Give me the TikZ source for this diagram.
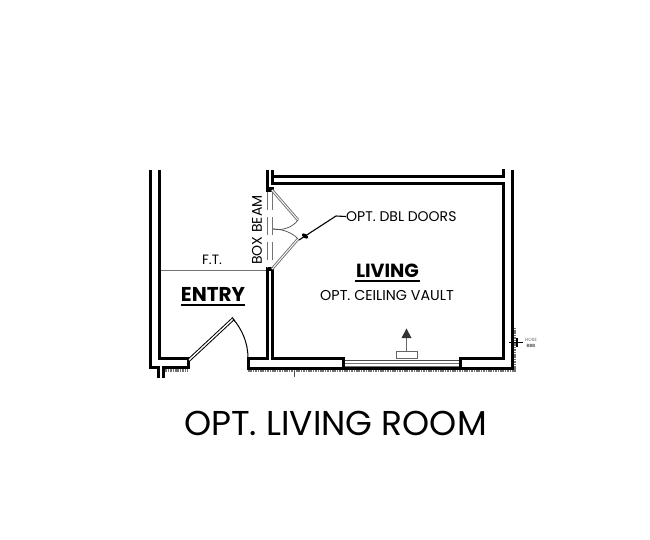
\documentclass[tikz,border=0pt]{standalone}
\usepackage{fontspec}
\setmainfont{Poppins}
\definecolor{grayline}{gray}{0.45}
\tikzset{
  wall/.style={line width=3pt,black,line cap=butt,line join=miter},
  grayw/.style={line width=1pt,grayline},
  hatchstrip/.style={line width=2.6pt,black!55,dash pattern=on 1.6pt off 0.8pt},
  lbl/.style={inner sep=0pt,text=black},
}
\begin{document}
\begin{tikzpicture}[x=1pt,y=-1pt]
\useasboundingbox (0,0) rectangle (650,539);
\fill[white] (0,0) rectangle (650,539);
% hatching
\draw[hatchstrip] (163,370.5) -- (188,370.5);
\draw[hatchstrip] (248,370.5) -- (515.5,370.5);
\draw[hatchstrip] (514.7,370) -- (514.7,327);
% left walls
\draw[wall] (150,170) -- (150,367.5) -- (158,367.5) -- (158,378);
\draw[wall] (163.5,378) -- (163.5,367.5) -- (188,367.5) -- (188,358.5) -- (159,358.5) -- (159,170);
% middle and bottom
\draw[wall] (267,170) -- (267,190);
\draw[wall] (272,170) -- (272,183) -- (503,183) -- (503,358.5) -- (460,358.5) -- (460,368);
\draw[wall] (273,176.5) -- (503,176.5) -- (503,169);
\draw[wall] (512,170) -- (512,368.5) -- (248,368.5) -- (248,358.5) -- (267,358.5) -- (267,269);
\draw[wall] (272,269) -- (272,358.5) -- (343,358.5) -- (343,368);
\fill[black] (265.5,187) rectangle (273.5,192);
\fill[black] (265.5,267) rectangle (273.5,271);
% sliding door
\fill[white] (345,359) rectangle (458,367);
\draw[black!70,line width=1.8pt] (344.5,360.5) -- (458.5,360.5);
\draw[grayw] (344.5,363.8) -- (458.5,363.8);
\draw[grayw] (344.5,366) -- (458.5,366);
% entry door
\coordinate (entryA) at (189,360);
\coordinate (entryB) at (233,319);
\draw[black,line width=3.4pt] (entryA) -- (entryB);
\draw[white,line width=1.4pt] (entryA) -- (entryB);
\draw[black,line width=0.8pt] (232,317) -- (235,321);
\draw[black,line width=1pt] (entryB) .. controls (242,329) and (248,343) .. (248,358);
% double doors
\coordinate (dbA) at (272,190);
\coordinate (dbB) at (298,220);
\coordinate (dbC) at (272,269);
\coordinate (dbD) at (298,239);
\draw[grayline,line width=2.8pt] (dbA) -- (dbB);
\draw[white,line width=0.9pt] (dbA) -- (dbB);
\draw[grayline,line width=2.8pt] (dbC) -- (dbD);
\draw[white,line width=0.9pt] (dbC) -- (dbD);
\draw[black!70,line width=0.7pt] (dbB) .. controls (293,227) and (283,231) .. (273,229);
\draw[black!70,line width=0.7pt] (dbD) .. controls (293,233) and (283,229) .. (273,229);
% box beam dashes
\draw[grayline,line width=1pt,dash pattern=on 18pt off 7pt] (267,192) -- (267,268);
\draw[grayline,line width=1pt,dash pattern=on 18pt off 7pt] (272,192) -- (272,268);
% F.T.
\draw[grayw] (160.5,270) -- (265.5,270);
\node[lbl,font=\fontsize{13.5}{14}\selectfont] (ft) at (212,260) {F.T.};
\node[lbl,rotate=90,font=\fontsize{14}{14}\selectfont] (bb) at (257,230) {BOX BEAM};
% leader
\node[lbl,anchor=west,font=\fontsize{14}{14}\selectfont] (dbl) at (346,216.5) {OPT. DBL DOORS};
\coordinate (lead) at (299,240);
\draw[black,line width=1.1pt] (lead) -- (336,216) -- (dbl.west);
\fill[black,rotate around={-33:(305,236)}] (305,236) ellipse (3.6pt and 2pt);
% labels
\node[lbl,font=\bfseries\fontsize{19}{19}\selectfont] (living) at (387.5,271) {LIVING};
\draw[black,line width=1.2pt] (355,281) -- (420,281);
\node[lbl,font=\fontsize{14.3}{14}\selectfont] (vault) at (387,295) {OPT. CEILING VAULT};
\node[lbl,font=\bfseries\fontsize{20}{20}\selectfont] (entry) at (213,294) {ENTRY};
\draw[black,line width=1.2pt] (181,305) -- (245,305);
\node[lbl,font=\fontsize{34.5}{35}\selectfont] (title) at (335.5,423) {OPT. LIVING ROOM};
% arrow
\draw[black!60,line width=1pt,fill=white] (396,358) rectangle (417,351);
\draw[black!60,line width=1.2pt] (406.5,351) -- (406.5,335);
\fill[black!80] (406.5,328.5) -- (411.5,338) -- (401.5,338) -- cycle;
% tick
\draw[black!70,line width=0.7pt] (294,371) -- (294,377);
% hose
\draw[black,line width=1.1pt] (509,342.5) -- (523,342.5);
\draw[black,line width=1.1pt] (517,338) -- (517,347);
\node[lbl,text=black!60,font=\fontsize{4.5}{5}\selectfont] (hose) at (531,340) {HOSE};
\node[lbl,text=black!60,font=\bfseries\fontsize{4.5}{5}\selectfont] (bib) at (531,345.5) {BBB};
\end{tikzpicture}
\end{document}
